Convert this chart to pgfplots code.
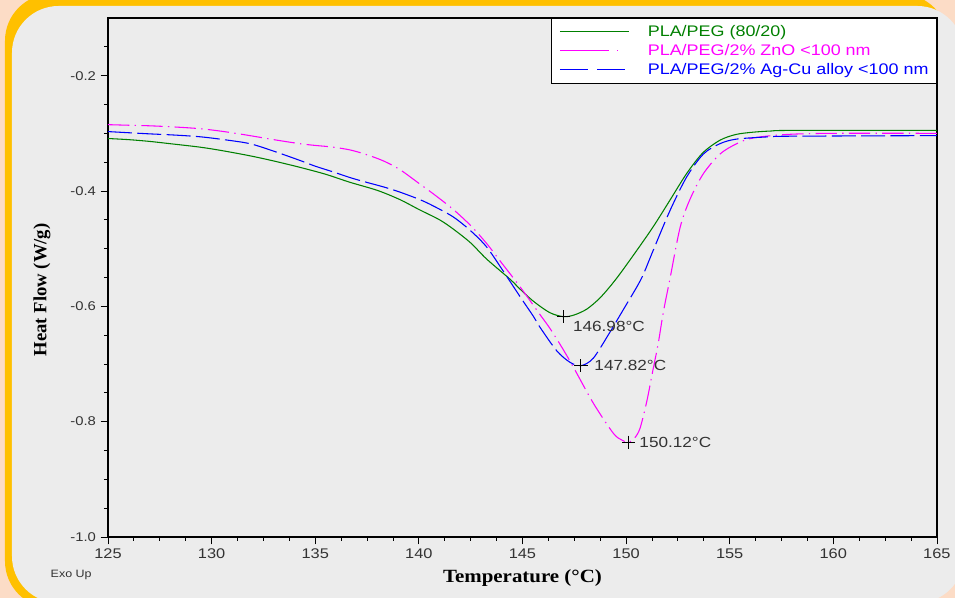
\documentclass[border=0pt]{standalone}
\usepackage{pgfplots}
\pgfplotsset{compat=1.18}
\usepackage{fontspec}
\setmainfont{Liberation Sans}[FakeStretch=1.17]
\newfontfamily\lblfont{Liberation Serif}[FakeStretch=1.12]
\newfontfamily\ylblfont{Liberation Serif}
\definecolor{peach}{HTML}{FCDCC6}
\definecolor{gold}{HTML}{FFC000}
\definecolor{panel}{HTML}{ECECEC}
\definecolor{dgreen}{HTML}{008000}
\definecolor{mag}{HTML}{FF00FF}
\definecolor{blu}{HTML}{0000FF}
\definecolor{txt}{HTML}{333333}
\begin{document}
\begin{tikzpicture}
\begin{scope}[x=0.75pt,y=0.75pt]
\useasboundingbox (0,0) rectangle (955,598);
\fill[peach] (0,0) rectangle (955,598);
\fill[gold, rounded corners=35] (5,-10) rectangle (948,604);
\fill[panel, rounded corners=35] (12,-5) rectangle (964,592);
\node[anchor=west, font=\fontsize{8}{9}\selectfont, text=txt] at (46,23) {Exo Up};
\end{scope}
\begin{axis}[
  at={(81pt,45.75pt)}, anchor=south west,
  scale only axis, width=621.75pt, height=389.25pt,
  xmin=125, xmax=165, ymin=-1, ymax=-0.1,
  xtick={125,130,...,165}, ytick={-1,-0.8,-0.6,-0.4,-0.2},
  minor xtick={126.25,127.5,128.75,131.25,132.5,133.75,136.25,137.5,138.75,141.25,142.5,143.75,146.25,147.5,148.75,151.25,152.5,153.75,156.25,157.5,158.75,161.25,162.5,163.75},
  minor ytick={-0.95,-0.9,-0.85,-0.75,-0.7,-0.65,-0.55,-0.5,-0.45,-0.35,-0.3,-0.25,-0.15},
  xtick pos=bottom, ytick pos=left,
  tick align=outside, major tick length=5.5pt, minor tick length=3pt,
  every tick/.style={black, line width=0.6pt},
  axis line style={black, line width=0.9pt},
  /pgf/number format/assume math mode=true,
  xticklabel style={font=\fontsize{10.5}{12}\selectfont, text=txt},
  yticklabel style={font=\fontsize{9.5}{11}\selectfont, text=txt, /pgf/number format/.cd, fixed, fixed zerofill, precision=1},
  xlabel={\lblfont\bfseries Temperature (°C)},
  ylabel={\ylblfont\bfseries Heat Flow (W/g)},
  every axis x label/.style={at={(axis description cs:0.5,-0.079)}, anchor=center, font=\fontsize{14}{16}\selectfont},
  every axis y label/.style={at={(axis description cs:-0.0796,0.476)}, anchor=center, rotate=90, font=\fontsize{14}{16}\selectfont},
  legend style={at={(rel axis cs:1,1)}, anchor=north east, draw=black, line width=0.6pt, fill=white,
    font=\fontsize{11.5}{13}\selectfont, inner xsep=6pt, inner ysep=4.5pt, row sep=3.25pt, column sep=0pt,
    nodes={inner sep=0pt, text height=9pt, text depth=2pt}},
  legend cell align=left,
  legend image code/.code={\draw[#1, line width=0.8pt] (0pt,0pt) -- (52pt,0pt); \path[draw=none, fill=none] (0pt,0pt) -- (66pt,0pt);},
]
\addplot[dgreen, line width=0.8pt, smooth] coordinates {
(125,-0.309) (126,-0.311) (127,-0.314) (128,-0.318) (129.44,-0.324) (130.5,-0.330) (131.85,-0.339) (133,-0.348) (134.26,-0.359) (135.5,-0.371) (136.68,-0.385) (138,-0.399) (139.09,-0.415) (140,-0.432) (141,-0.450) (141.66,-0.466) (142.5,-0.490) (143.27,-0.518) (144.4,-0.553) (144.88,-0.570) (145.52,-0.591) (146.32,-0.611) (146.98,-0.618) (147.5,-0.615) (148.1,-0.605) (148.7,-0.587) (149.22,-0.566) (149.7,-0.544) (150.5,-0.504) (151.31,-0.462) (152.1,-0.417) (152.92,-0.370) (153.7,-0.334) (154.53,-0.312) (155.3,-0.302) (156.14,-0.298) (157,-0.296) (158,-0.295) (165,-0.295)};
\addlegendentry{\textcolor{dgreen}{PLA/PEG (80/20)}}
\addplot[mag, line width=0.8pt, smooth, dash pattern=on 16pt off 4pt on 1pt off 4pt, legend image post style={dash pattern=on 37pt off 6pt on 1pt off 20pt}] coordinates {
(125,-0.285) (126,-0.286) (127.03,-0.287) (128.2,-0.289) (129.44,-0.292) (130.6,-0.297) (131.85,-0.304) (133,-0.311) (134.26,-0.318) (135,-0.321) (135.87,-0.324) (136.7,-0.329) (137.48,-0.337) (138.3,-0.348) (139.09,-0.363) (140.05,-0.388) (140.7,-0.405) (141.66,-0.432) (142.5,-0.460) (143.27,-0.491) (144,-0.525) (144.88,-0.566) (145.84,-0.614) (146.32,-0.638) (146.9,-0.671) (147.45,-0.705) (148.42,-0.768) (149.38,-0.820) (149.8,-0.832) (150.12,-0.836) (150.4,-0.829) (150.67,-0.812) (151.0,-0.765) (151.3,-0.710) (151.55,-0.665) (151.8,-0.610) (152.12,-0.552) (152.61,-0.463) (153.09,-0.414) (153.73,-0.370) (154.53,-0.336) (155.34,-0.318) (156.14,-0.308) (157.75,-0.302) (160,-0.300) (165,-0.300)};
\addlegendentry{\textcolor{mag}{PLA/PEG/2\% ZnO <100 nm}}
\addplot[blu, line width=0.8pt, smooth, dash pattern=on 18pt off 4pt, legend image post style={dash pattern=on 21pt off 7pt}] coordinates {
(125,-0.297) (126,-0.299) (127.03,-0.301) (128.2,-0.303) (129.44,-0.306) (130.6,-0.311) (131.85,-0.318) (133,-0.331) (134.26,-0.347) (135,-0.357) (135.87,-0.367) (136.7,-0.377) (137.48,-0.385) (138.3,-0.393) (139.09,-0.402) (140.05,-0.415) (140.7,-0.426) (141.66,-0.445) (142.5,-0.469) (143.27,-0.497) (144,-0.535) (144.88,-0.583) (145.52,-0.617) (145.84,-0.636) (146.65,-0.677) (147.29,-0.697) (147.82,-0.703) (148.42,-0.690) (149.22,-0.645) (149.7,-0.616) (150.03,-0.596) (150.51,-0.567) (150.83,-0.545) (151.31,-0.503) (152.12,-0.434) (152.92,-0.376) (153.73,-0.336) (154.53,-0.318) (155.34,-0.310) (156.94,-0.306) (158,-0.305) (165,-0.304)};
\addlegendentry{\textcolor{blu}{PLA/PEG/2\% Ag-Cu alloy <100 nm}}
\addplot[only marks, mark=+, mark size=5pt, black, mark options={line width=0.6pt}, forget plot] coordinates {(146.98,-0.618) (147.82,-0.703) (150.12,-0.836)};
\node[anchor=west, font=\fontsize{11}{13}\selectfont, text=txt, inner sep=0pt] at (axis cs:146.98,-0.618) [xshift=7pt, yshift=-7pt] {146.98°C};
\node[anchor=west, font=\fontsize{11}{13}\selectfont, text=txt, inner sep=0pt] at (axis cs:147.82,-0.703) [xshift=10pt] {147.82°C};
\node[anchor=west, font=\fontsize{11}{13}\selectfont, text=txt, inner sep=0pt] at (axis cs:150.12,-0.836) [xshift=8pt] {150.12°C};
\end{axis}
\end{tikzpicture}
\end{document}
